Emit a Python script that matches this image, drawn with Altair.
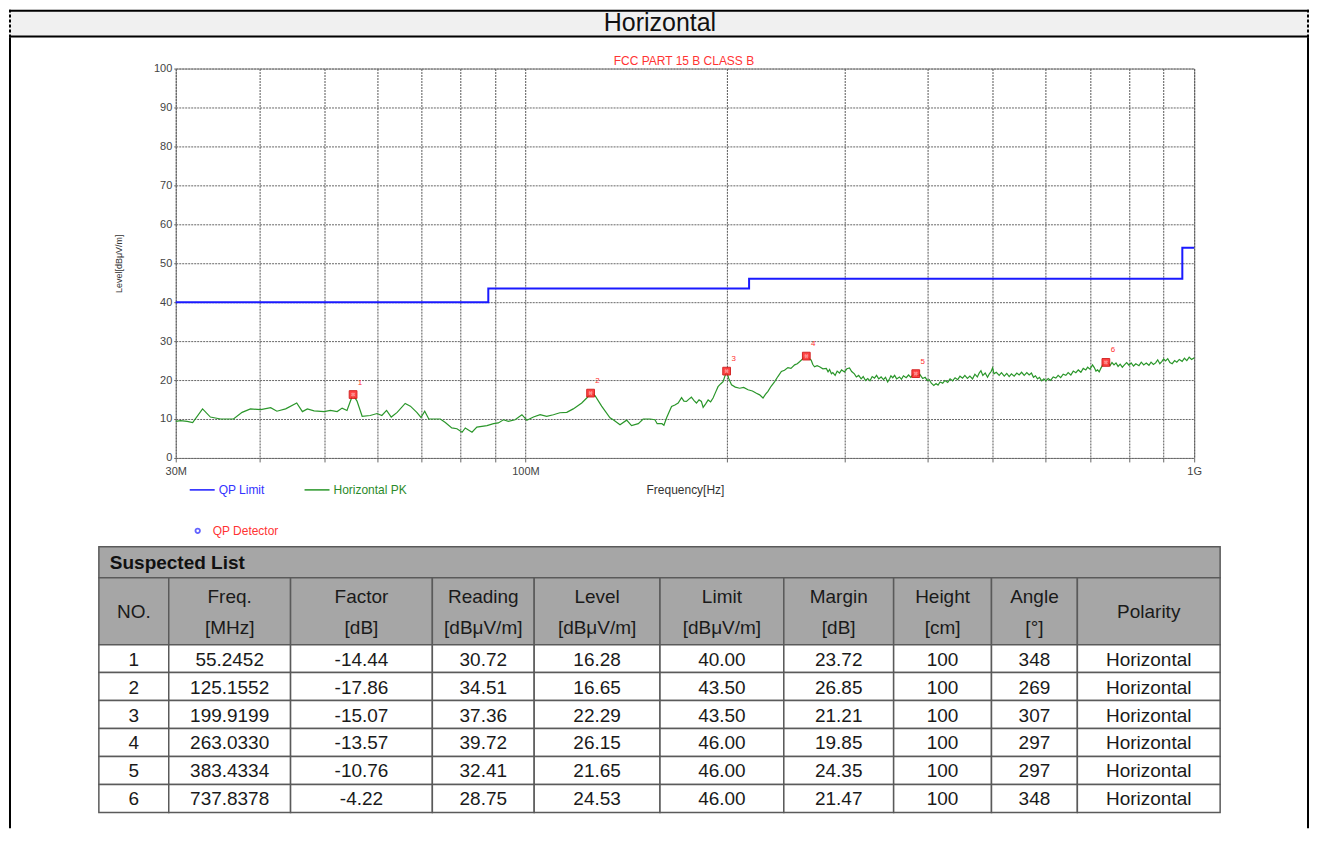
import altair as alt
import pandas as pd

FONT = "Liberation Sans"

# ---------------- data ----------------
pk_freq = [
    30.0, 30.5, 31.2, 31.8, 32.9, 33.8, 35.0, 36.6, 37.7, 38.8, 40.2, 41.6, 42.5, 43.8, 45.5, 46.4,
    47.2, 48.3, 50.0, 51.1, 52.3, 53.2, 54.1, 55.2, 56.0, 57.0, 58.6, 60.0, 61.0, 62.0, 63.0, 64.3,
    66.1, 67.3, 68.8, 69.8, 70.7, 71.7, 74.6, 75.9, 77.6, 79.0, 80.4, 81.3, 83.2, 84.6, 87.6, 89.6,
    91.1, 92.7, 94.3, 96.5, 98.8, 100.5, 102.8, 105.2, 107.6, 110.1, 112.6, 115.3, 117.9, 121.4,
    123.5, 125.2, 127.1, 130.0, 133.8, 135.3, 138.5, 141.7, 144.1, 147.5, 150.0, 153.5, 156.2,
    157.4, 160.0, 161.1, 162.6, 164.0, 165.4, 167.3, 169.2, 171.2, 172.6, 174.1, 175.6, 177.1,
    178.6, 180.2, 181.8, 183.3, 184.4, 186.0, 187.6, 189.2, 190.8, 192.5, 194.1, 195.8, 197.5,
    199.9, 201.5, 203.3, 206.0, 209.1, 212.0, 215.2, 218.5, 221.5, 224.0, 226.6, 228.5, 230.5,
    233.0, 235.9, 238.5, 241.4, 244.0, 246.9, 249.5, 252.7, 255.0, 257.0, 260.0, 263.0, 265.0,
    267.5, 269.0, 270.6, 273.0, 275.3, 278.5, 281.8, 283.5, 285.0, 286.8, 288.2, 290.5, 292.5,
    294.9, 297.0, 300.0, 302.5, 305.2, 307.5, 310.4, 312.5, 315.0, 317.7, 320.0, 322.5, 325.0,
    327.5, 330.0, 332.6, 335.0, 337.5, 340.3, 343.0, 345.5, 348.1, 350.5, 352.0, 354.2, 356.5,
    359.0, 362.5, 365.0, 367.5, 371.0, 374.0, 377.0, 380.0, 383.4, 386.0, 389.0, 392.7, 396.0,
    399.0, 401.8, 404.5, 408.0, 411.2, 414.0, 417.0, 420.7, 424.0, 428.0, 431.5, 435.3, 439.0,
    443.0, 446.5, 450.5, 454.0, 458.0, 462.0, 466.2, 470.0, 474.0, 477.0, 479.9, 483.0, 487.0,
    490.9, 494.0, 497.0, 499.5, 502.0, 506.0, 511.0, 515.0, 520.0, 524.5, 528.9, 533.0, 538.0,
    543.0, 547.4, 552.0, 557.0, 562.0, 566.6, 571.0, 575.0, 579.0, 583.1, 587.0, 591.5, 596.0,
    600.0, 605.0, 610.0, 615.5, 621.1, 626.0, 631.5, 637.0, 642.9, 648.0, 654.0, 659.5, 665.4,
    671.0, 677.0, 682.5, 688.6, 693.0, 698.5, 704.7, 709.0, 713.0, 717.0, 721.0, 725.0, 729.5,
    733.5, 737.8, 743.0, 748.5, 753.5, 758.8, 764.0, 769.5, 775.0, 780.9, 786.5, 792.5, 799.1,
    805.0, 811.5, 818.0, 826.9, 833.5, 840.5, 848.0, 855.8, 862.0, 869.0, 875.7, 882.0, 888.5,
    895.0, 900.0, 906.3, 913.0, 920.0, 927.1, 935.0, 942.0, 950.0, 959.5, 967.0, 975.0, 983.0,
    991.0, 1000.0,
]
pk_level = [
    9.4, 9.6, 9.4, 9.1, 12.6, 10.5, 10.0, 10.0, 11.7, 12.6, 12.4, 12.9, 12.0, 12.6, 14.1, 11.9,
    12.6, 12.1, 11.9, 12.2, 11.9, 12.8, 12.2, 16.3, 14.6, 10.7, 10.9, 11.4, 10.9, 12.2, 10.5, 11.7,
    14.0, 13.3, 11.7, 10.4, 12.0, 10.0, 10.0, 9.1, 7.7, 7.5, 6.6, 7.7, 6.6, 7.9, 8.3, 8.8,
    9.0, 9.8, 9.4, 9.8, 11.1, 9.7, 10.5, 11.1, 10.7, 11.1, 11.6, 11.7, 12.6, 14.1,
    15.4, 16.6, 16.0, 13.3, 10.3, 9.8, 8.5, 9.7, 8.3, 8.8, 10.0, 10.0, 9.8,
    8.8, 8.8, 8.4, 10.3, 11.8, 13.2, 13.6, 14.1, 15.5, 14.6, 14.5, 15.1, 15.6,
    14.8, 14.1, 14.9, 14.5, 13.0, 13.9, 14.9, 14.4, 15.4, 16.9, 18.3, 19.0, 19.6,
    22.3, 20.3, 18.8, 18.2, 17.9, 18.1, 17.5, 17.2, 16.6, 16.2, 15.4, 16.3, 17.1,
    18.4, 19.6, 20.9, 22.2, 22.5, 23.2, 23.0, 23.9, 24.2, 24.7, 25.5, 26.2, 25.7,
    25.1, 24.0, 23.4, 23.7, 23.4, 22.9, 23.0, 22.1, 22.7, 21.6, 21.9, 21.2, 22.3,
    21.8, 22.6, 22.1, 22.9, 23.1, 22.2, 21.6, 20.8, 21.2, 20.3, 20.9, 19.9, 20.4,
    19.8, 20.9, 20.5, 21.2, 20.3, 20.8, 20.1, 20.7, 19.5, 20.4, 21.1, 20.6, 21.2,
    20.3, 20.8, 20.2, 21.1, 20.6, 21.3, 20.7, 21.4, 21.7, 21.1, 21.4, 20.4, 20.7,
    19.9, 20.1, 19.2, 18.6, 19.1, 18.7, 19.5, 19.2, 19.9, 19.4, 20.3, 19.8, 20.6,
    20.1, 21.0, 20.5, 21.2, 20.4, 21.0, 20.3, 21.5, 20.8, 21.8, 22.4, 21.2, 21.8,
    20.7, 21.6, 22.2, 23.1, 21.6, 22.0, 21.2, 21.9, 21.0, 21.7, 20.9, 21.6, 21.0,
    21.8, 21.3, 22.0, 21.2, 21.9, 21.3, 21.8, 20.7, 21.1, 20.3, 20.7, 19.8, 20.3,
    19.8, 20.4, 19.9, 20.8, 20.5, 21.2, 20.6, 21.5, 21.2, 21.9, 21.3, 22.3, 21.9,
    22.6, 22.0, 23.0, 22.6, 23.3, 22.8, 23.9, 23.2, 22.3, 22.6, 22.1, 23.0, 23.8,
    24.1, 24.5, 24.4, 23.7, 24.5, 23.9, 24.4, 23.5, 24.1, 23.3, 23.9, 24.5, 23.8,
    24.4, 23.6, 24.2, 23.7, 24.6, 23.9, 24.4, 23.8, 24.6, 24.0, 24.4, 25.2, 24.2,
    24.8, 25.4, 24.9, 25.5, 24.5, 24.2, 25.0, 24.6, 25.3, 24.8, 25.6, 25.0, 25.9,
    25.3, 25.7,
]

limit_freq = [30, 88, 88, 216, 216, 960, 960, 1000]
limit_level = [40.0, 40.0, 43.5, 43.5, 46.0, 46.0, 54.0, 54.0]

sus_no = [1, 2, 3, 4, 5, 6]
sus_freq = [55.2452, 125.1552, 199.9199, 263.0330, 383.4334, 737.8378]
sus_factor = [-14.44, -17.86, -15.07, -13.57, -10.76, -4.22]
sus_reading = [30.72, 34.51, 37.36, 39.72, 32.41, 28.75]
sus_level = [16.28, 16.65, 22.29, 26.15, 21.65, 24.53]
sus_limit = [40.00, 43.50, 43.50, 46.00, 46.00, 46.00]
sus_margin = [23.72, 26.85, 21.21, 19.85, 24.35, 21.47]
sus_height = [100, 100, 100, 100, 100, 100]
sus_angle = [348, 269, 307, 297, 297, 348]
sus_polarity = ["Horizontal"] * 6

table_headers = ["NO.", "Freq.\n[MHz]", "Factor\n[dB]", "Reading\n[dBμV/m]", "Level\n[dBμV/m]",
                 "Limit\n[dBμV/m]", "Margin\n[dB]", "Height\n[cm]", "Angle\n[°]", "Polarity"]

x_grid_mhz = [30, 40, 50, 60, 70, 80, 90, 100, 200, 300, 400, 500, 600, 700, 800, 900, 1000]
y_ticks = [0, 10, 20, 30, 40, 50, 60, 70, 80, 90, 100]

# ---------------- layout constants (page pixels) ----------------
PAGE_L, PAGE_R = 8, 1310
PW, PH = 1020, 390          # plot area
PL, PT = 175, 67            # plot area page origin
HDR_T, BODY_TOP, PAGE_BOTTOM = 8, 36, 828
TBL_L, TBL_T = 98, 546
col_edges = [0, 70, 192, 334, 436, 562, 686, 796, 894, 980, 1123]
TITLE_H, HEAD_H, ROW_H, LINE_H = 31, 67, 28, 31
TBL_W = col_edges[-1]
TBL_H = TITLE_H + HEAD_H + ROW_H * 6

def vx(px):  # page x -> view x
    return px - PL

def vy(py):  # page y -> view y
    return py - PT

one = pd.DataFrame({"k": [0]})

# ---------------- frame / header decorations ----------------
frame = [
    alt.Chart(one).mark_rect(color="#f0f0f0")
    .encode(x=alt.value(vx(PAGE_L)), x2=alt.value(vx(PAGE_R)),
            y=alt.value(vy(HDR_T)), y2=alt.value(vy(BODY_TOP))),
    alt.Chart(one).mark_rule(color="#000", strokeWidth=2)
    .encode(x=alt.value(vx(PAGE_L)), x2=alt.value(vx(PAGE_R)), y=alt.value(vy(HDR_T + 1))),
    alt.Chart(one).mark_rule(color="#000", strokeWidth=2)
    .encode(x=alt.value(vx(PAGE_L)), x2=alt.value(vx(PAGE_R)), y=alt.value(vy(BODY_TOP - 1))),
    alt.Chart(one).mark_rule(color="#000", strokeWidth=2, strokeDash=[3, 2])
    .encode(x=alt.value(vx(PAGE_L + 1)), y=alt.value(vy(HDR_T)), y2=alt.value(vy(BODY_TOP))),
    alt.Chart(one).mark_rule(color="#000", strokeWidth=2, strokeDash=[3, 2])
    .encode(x=alt.value(vx(PAGE_R - 1)), y=alt.value(vy(HDR_T)), y2=alt.value(vy(BODY_TOP))),
    alt.Chart(one).mark_rule(color="#000", strokeWidth=2)
    .encode(x=alt.value(vx(PAGE_L + 1)), y=alt.value(vy(BODY_TOP)), y2=alt.value(vy(PAGE_BOTTOM))),
    alt.Chart(one).mark_rule(color="#000", strokeWidth=2)
    .encode(x=alt.value(vx(PAGE_R - 1)), y=alt.value(vy(BODY_TOP)), y2=alt.value(vy(PAGE_BOTTOM))),
    alt.Chart(one).mark_text(text="Horizontal", font=FONT, fontSize=25, color="#111",
                             baseline="middle", align="center")
    .encode(x=alt.value(vx(660)), y=alt.value(vy(21))),
]

# ---------------- plot ----------------
xs = alt.Scale(type="log", domain=[30, 1000], nice=False)
ys = alt.Scale(domain=[0, 100], nice=False, zero=True)

label_expr = ("datum.value == 30 ? '30M' : datum.value == 100 ? '100M' : "
              "datum.value == 1000 ? '1G' : ''")
xaxis = alt.Axis(values=x_grid_mhz, labelExpr=label_expr, grid=True, gridColor="#555",
                 gridDash=[2, 1], gridWidth=1, domain=False, ticks=True, tickSize=4,
                 tickColor="#666", labelFont=FONT, labelFontSize=11, labelColor="#444",
                 labelPadding=4, labelOverlap=False, labelFlush=False,
                 title="Frequency[Hz]", titleFont=FONT, titleFontSize=12,
                 titleFontWeight="normal", titleColor="#333", titlePadding=8)
yaxis = alt.Axis(values=y_ticks, grid=True, gridColor="#666", gridDash=[2, 1], gridWidth=1,
                 domain=False, ticks=True, tickSize=2, tickColor="#666", labelFont=FONT,
                 labelFontSize=11, labelColor="#444", labelPadding=2,
                 title="Level[dBμV/m]", titleFont=FONT, titleFontSize=9,
                 titleFontWeight="normal", titleColor="#333", titlePadding=30)

pk_df = pd.DataFrame({"f": pk_freq, "lvl": pk_level})
lim_df = pd.DataFrame({"f": limit_freq, "lvl": limit_level, "i": list(range(len(limit_freq)))})
sus_df = pd.DataFrame({"f": sus_freq, "lvl": sus_level, "no": [str(n) for n in sus_no]})

X = alt.X("f:Q", scale=xs, axis=xaxis)
Y = alt.Y("lvl:Q", scale=ys, axis=yaxis)

trace = alt.Chart(pk_df).mark_line(color="#2a962a", strokeWidth=1.2).encode(x=X, y=Y)
limit = alt.Chart(lim_df).mark_line(color="#1a1aff", strokeWidth=2).encode(
    x=X, y=Y, order="i:Q")
marks = alt.Chart(sus_df).mark_square(size=60, color="#ff3030", opacity=0.9,
                                      stroke="#d01010", strokeWidth=1).encode(x=X, y=Y)
marks_x = alt.Chart(sus_df).mark_point(shape="cross", size=18, color="#ffb0b0",
                                       filled=True, angle=45).encode(x=X, y=Y)
mark_lbl = alt.Chart(sus_df).mark_text(font=FONT, fontSize=8, color="#ff3030", dx=7,
                                       dy=-12).encode(x=X, y=Y, text="no:N")
plot_layer = alt.layer(limit, trace, marks, marks_x, mark_lbl)

deco = [
    alt.Chart(one).mark_text(text="FCC PART 15 B CLASS B", font=FONT, fontSize=12,
                             color="#ff3333", align="center", baseline="middle")
    .encode(x=alt.value(vx(684)), y=alt.value(vy(59))),
    alt.Chart(one).mark_rule(color="#1a1aff", strokeWidth=1.5)
    .encode(x=alt.value(vx(189)), x2=alt.value(vx(214)), y=alt.value(vy(489))),
    alt.Chart(one).mark_text(text="QP Limit", font=FONT, fontSize=12, color="#3333ff",
                             align="left", baseline="middle")
    .encode(x=alt.value(vx(218)), y=alt.value(vy(489))),
    alt.Chart(one).mark_rule(color="#2a962a", strokeWidth=1.5)
    .encode(x=alt.value(vx(304)), x2=alt.value(vx(329)), y=alt.value(vy(489))),
    alt.Chart(one).mark_text(text="Horizontal PK", font=FONT, fontSize=12, color="#2a8a2a",
                             align="left", baseline="middle")
    .encode(x=alt.value(vx(333)), y=alt.value(vy(489))),
    alt.Chart(one).mark_point(shape="circle", size=20, color="#2222ff", strokeWidth=1.8,
                              filled=False)
    .encode(x=alt.value(vx(197)), y=alt.value(vy(530))),
    alt.Chart(one).mark_text(text="QP Detector", font=FONT, fontSize=12, color="#ff3333",
                             align="left", baseline="middle")
    .encode(x=alt.value(vx(212)), y=alt.value(vy(530))),
]

# ---------------- table ----------------
def fmt_rows():
    rows = []
    for i in range(6):
        rows.append([
            str(sus_no[i]), f"{sus_freq[i]:.4f}", f"{sus_factor[i]:.2f}",
            f"{sus_reading[i]:.2f}", f"{sus_level[i]:.2f}", f"{sus_limit[i]:.2f}",
            f"{sus_margin[i]:.2f}", str(sus_height[i]), str(sus_angle[i]), sus_polarity[i],
        ])
    return rows

cells = [dict(x0=0, x1=TBL_W, y0=0, y1=TITLE_H, fill="#a6a6a6")]
texts = []
for c, h in enumerate(table_headers):
    x0, x1 = col_edges[c], col_edges[c + 1]
    cells.append(dict(x0=x0, x1=x1, y0=TITLE_H, y1=TITLE_H + HEAD_H, fill="#a6a6a6"))
    n = h.count("\n") + 1
    texts.append(dict(xc=(x0 + x1) / 2,
                      yc=TITLE_H + HEAD_H / 2 + 1 - (n - 1) * LINE_H / 2, txt=h))
for r, row in enumerate(fmt_rows()):
    y0 = TITLE_H + HEAD_H + ROW_H * r
    for c, v in enumerate(row):
        x0, x1 = col_edges[c], col_edges[c + 1]
        cells.append(dict(x0=x0, x1=x1, y0=y0, y1=y0 + ROW_H, fill="#ffffff"))
        texts.append(dict(xc=(x0 + x1) / 2, yc=y0 + ROW_H / 2 + 1, txt=v))
cells_df = pd.DataFrame(cells)
texts_df = pd.DataFrame(texts)
title_df = pd.DataFrame({"xc": [11], "yc": [TITLE_H / 2 + 1], "txt": ["Suspected List"]})

tx = alt.Scale(domain=[0, TBL_W], range=[vx(TBL_L), vx(TBL_L + TBL_W)], nice=False, zero=False)
ty = alt.Scale(domain=[0, TBL_H], range=[vy(TBL_T), vy(TBL_T + TBL_H)], nice=False, zero=False)

rects = alt.Chart(cells_df).mark_rect(stroke="#5a5a5a", strokeWidth=1.5).encode(
    x=alt.X("x0:Q", scale=tx, axis=None), x2="x1:Q",
    y=alt.Y("y0:Q", scale=ty, axis=None), y2="y1:Q",
    fill=alt.Fill("fill:N", scale=None),
)
cell_text = alt.Chart(texts_df).mark_text(font=FONT, fontSize=19, color="#1a1a1a",
                                          lineBreak="\n", lineHeight=LINE_H,
                                          baseline="middle", align="center").encode(
    x=alt.X("xc:Q", scale=tx, axis=None), y=alt.Y("yc:Q", scale=ty, axis=None), text="txt:N")
title_text = alt.Chart(title_df).mark_text(font=FONT, fontSize=19, fontWeight="bold",
                                           color="#111", align="left",
                                           baseline="middle").encode(
    x=alt.X("xc:Q", scale=tx, axis=None), y=alt.Y("yc:Q", scale=ty, axis=None), text="txt:N")
table_layer = alt.layer(rects, cell_text, title_text)

chart = alt.layer(
    alt.layer(*frame), plot_layer, alt.layer(*deco), table_layer
).resolve_scale(x="independent", y="independent").properties(
    width=PW, height=PH, padding=0, background="#ffffff",
).configure_view(stroke="#8c8c8c", strokeWidth=1)

chart.save("out.html", embed_options={"renderer": "svg", "actions": False})
